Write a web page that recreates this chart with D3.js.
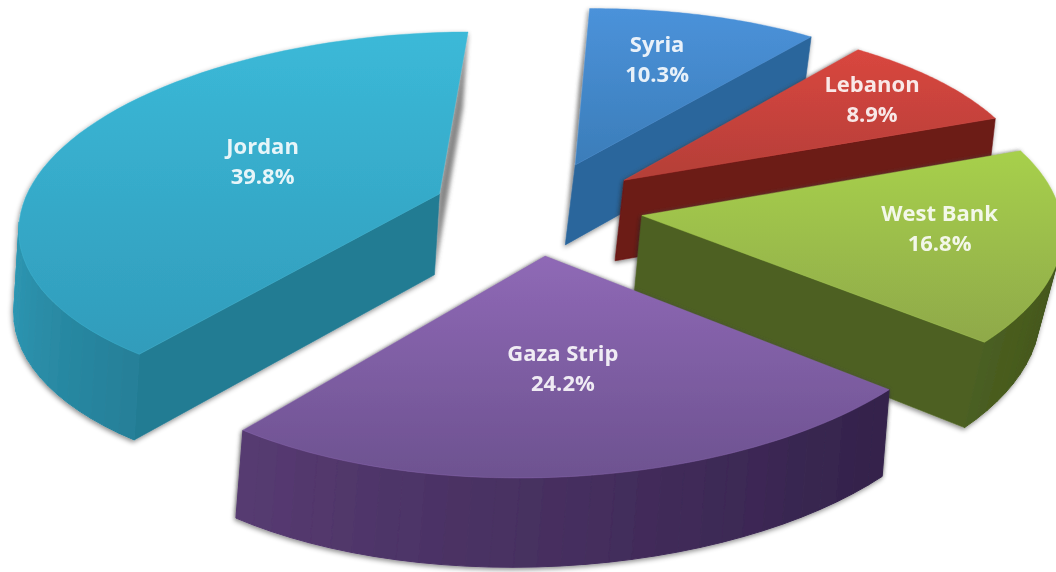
<!DOCTYPE html>
<html><head><meta charset="utf-8"><script src="https://cdn.jsdelivr.net/npm/d3@7"></script>
<style>html,body{margin:0;background:#fff;overflow:hidden}svg{display:block}
text{font-family:"Open Sans",sans-serif;font-weight:700;font-size:22px;text-anchor:middle;fill:#fff;fill-opacity:.88;filter:url(#labelSoft)}</style></head><body>
<svg width="1056" height="572"></svg>
<script>
// Exploded 3D pie of shares by area
const categories=["Syria","Lebanon","West Bank","Gaza Strip","Jordan"];
const shares=[10.3,8.9,16.8,24.2,39.8];
const topColors=[["#4b92da","#3b7db9"],["#d9463f","#b43f38"],["#a7d04c","#8fa94a"],["#8f69b6","#6d5290"],["#3bb9d8","#319cbb"]];
const rimColors=[["#2d6aa2","#275a8b"],["#701b17","#601813"],["#4a5e20","#44571d"],["#573b72","#33224a"],["#2f9ab6","#257f98"]];
const sideColors=["#2c669c","#6c1a15","#4d6121","#4c3366","#237b93"];
const labelRadius=[0.68,0.79,0.71,0.54,0.49];
const labelSweep=[-0.03,-0.01,-0.03,0,0.015];
const leanBase=[-10,-9,14.5,-7,-5];
const leanSlope=[0,0,-0.035,0,0];

// Plane-to-screen homography, pie explosion distance and start rotation (radians)
const H=[423.2,-39.67,537.55,-17.86,158.78,208.23,0.0121,-0.1156];
const explode=0.2546, rotation=0.1038;
const project=(X,Y)=>{const w=1+H[6]*X+H[7]*Y;return [(H[0]*X+H[1]*Y+H[2])/w,(H[3]*X+H[4]*Y+H[5])/w];};
const polar=(mid,th,r)=>project(explode*Math.sin(mid)+r*Math.sin(th),-explode*Math.cos(mid)-r*Math.cos(th));
// Extrusion of the top surface down to the base of the slab
const down=(k,[x,y])=>[x+leanBase[k]+leanSlope[k]*x,y+0.03*y+75];

const slices=d3.pie().sort(null).value(d=>d)(shares).map((d,i)=>({
  i,name:categories[i],value:d.data,
  s:d.startAngle+rotation,e:d.endAngle+rotation,m:(d.startAngle+d.endAngle)/2+rotation}));

const svg=d3.select("svg");
const defs=svg.append("defs");
const shadow=defs.append("filter").attr("id","edgeShadow").attr("x","-10%").attr("y","-10%").attr("width","120%").attr("height","120%");
shadow.append("feDropShadow").attr("dx",-1).attr("dy",2).attr("stdDeviation",2.5).attr("flood-color","#000").attr("flood-opacity",.45);
const blur=defs.append("filter").attr("id","faceBlur").attr("x","-20%").attr("y","-20%").attr("width","140%").attr("height","140%");
blur.append("feGaussianBlur").attr("stdDeviation",2);
const soft=defs.append("filter").attr("id","labelSoft").attr("x","-10%").attr("y","-20%").attr("width","120%").attr("height","140%");
soft.append("feGaussianBlur").attr("stdDeviation",.4);
slices.forEach(d=>{
  const g=defs.append("linearGradient").attr("id","top"+d.i).attr("x1",0).attr("y1",0).attr("x2",0).attr("y2",1);
  g.append("stop").attr("offset",0).attr("stop-color",topColors[d.i][0]);
  g.append("stop").attr("offset",1).attr("stop-color",topColors[d.i][1]);
});

const line=d3.line();
const drawOrder=[0,1,4,2,3];
drawOrder.forEach(k=>{
  const d=slices[k];
  const g=svg.append("g");
  const apex=polar(d.m,d.m,0);
  const n=Math.max(10,Math.ceil((d.e-d.s)*20));
  const rim=d3.range(n+1).map(t=>polar(d.m,d.s+(d.e-d.s)*t/n,1));
  const faces=[{tip:rim[0],front:-Math.sin(d.s)>0.15},{tip:rim[n],front:Math.sin(d.e)>0.15}];
  // A cut face turned away from the viewer only shows as a soft shadow
  faces.filter(f=>!f.front).forEach(f=>{
    g.append("path").attr("d",line([apex,f.tip,down(k,f.tip),down(k,apex)])+"Z")
     .attr("fill","#555").attr("fill-opacity",.7).attr("filter","url(#faceBlur)");
  });
  const body=g.append("g").attr("filter","url(#edgeShadow)");
  faces.filter(f=>f.front).forEach(f=>{
    body.append("path").attr("d",line([apex,f.tip,down(k,f.tip),down(k,apex)])+"Z")
     .attr("fill",sideColors[k]).attr("stroke",sideColors[k]).attr("stroke-width",.6);
  });
  // Curved outer wall, faceted; only the facets turned toward the viewer are kept
  const shade=d3.interpolateRgb(rimColors[k][0],rimColors[k][1]);
  const facets=d3.range(n).map(t=>[rim[t],rim[t+1]]).filter(([a,b])=>{
    const v=down(k,a);
    return (b[0]-a[0])*(v[1]-a[1])-(b[1]-a[1])*(v[0]-a[0])<0;
  }).sort((p,q)=>p[0][0]-q[0][0]);
  facets.forEach(([a,b],t)=>{
    const c=shade((t+.5)/facets.length);
    body.append("path").attr("d",line([a,b,down(k,b),down(k,a)])+"Z").attr("fill",c).attr("stroke",c).attr("stroke-width",1);
  });
  // Top face
  const fine=d3.range(61).map(t=>polar(d.m,d.s+(d.e-d.s)*t/60,1));
  body.append("path").attr("d",line([apex,...fine])+"Z").attr("fill",`url(#top${k})`)
    .attr("stroke",topColors[k][0]).attr("stroke-opacity",.5).attr("stroke-width",.8);
});

// Labels sit on the top faces, near each slice's middle angle
const labels=svg.append("g").selectAll("text").data(slices).join("text")
  .attr("transform",d=>{
    const th=d.m+labelSweep[d.i]*(d.e-d.s)*2;
    const [x,y]=polar(d.m,th,labelRadius[d.i]);
    return `translate(${x},${y})`;});
labels.append("tspan").attr("x",0).attr("y",-7).text(d=>d.name);
labels.append("tspan").attr("x",0).attr("y",23).text(d=>d3.format(".1f")(d.value)+"%");
</script></body></html>
